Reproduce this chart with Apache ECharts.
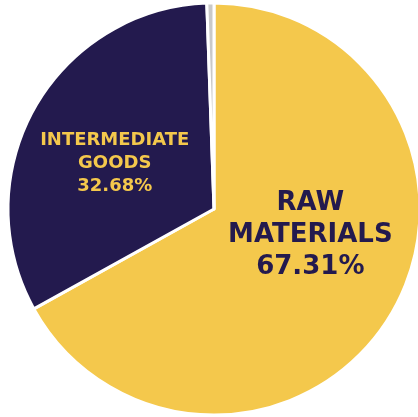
<!DOCTYPE html>
<html>
<head>
<meta charset="utf-8">
<script src="https://cdn.jsdelivr.net/npm/echarts@6/dist/echarts.min.js"></script>
<style>
  html, body { margin: 0; padding: 0; background: #fff; }
  #chart { width: 418px; height: 417px; }
</style>
</head>
<body>
<div id="chart"></div>
<script>
var names = ['RAW\nMATERIALS', 'INTERMEDIATE\nGOODS', 'OTHER'];
var shares = [67.31, 32.68, 0.01];
var colors = ['#f4c84c', '#231a4e', '#c9c9c9'];
var labelColors = ['#231a4e', '#f4c84c', '#c9c9c9'];
var labelSizes = [26, 18];
var labelShift = [[5, -28], [-7, 7]];

var chart = echarts.init(document.getElementById('chart'));

var data = names.map(function (n, i) {
    var item = {
        name: n,
        value: shares[i],
        itemStyle: { color: colors[i] }
    };
    if (i < 2) {
        item.label = {
            show: true,
            color: labelColors[i],
            fontSize: labelSizes[i],
            lineHeight: i === 0 ? 32 : 23
        };
    } else {
        item.label = { show: false };
    }
    return item;
});

chart.setOption({
    animation: false,
    series: [{
        type: 'pie',
        center: [214, 209],
        radius: [0, 206],
        startAngle: 90,
        clockwise: true,
        minAngle: 2,
        avoidLabelOverlap: false,
        itemStyle: { borderColor: '#fff', borderWidth: 3 },
        label: {
            position: 'inside',
            fontFamily: 'DejaVu Sans',
            fontWeight: 'bold',
            align: 'center',
            formatter: function (p) {
                return p.name + '\n' + p.value.toFixed(2) + '%';
            }
        },
        labelLine: { show: false },
        labelLayout: function (p) {
            var s = labelShift[p.dataIndex] || [0, 0];
            return { dx: s[0], dy: s[1] };
        },
        emphasis: { disabled: true },
        data: data
    }]
});
</script>
</body>
</html>
